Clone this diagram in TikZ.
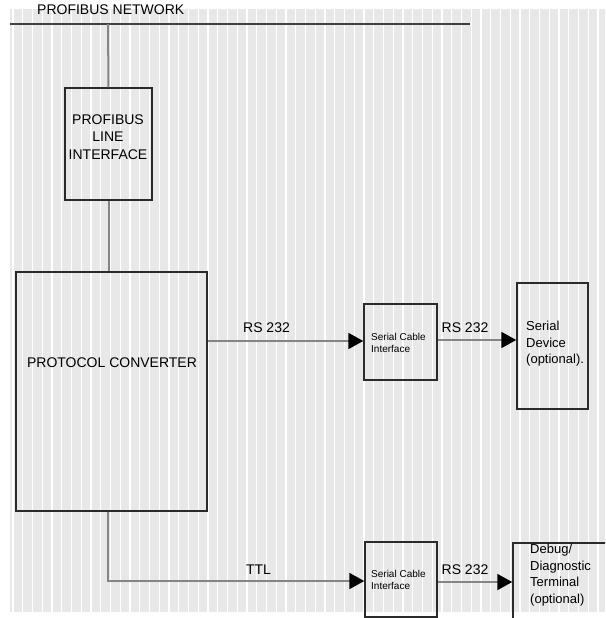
\documentclass[tikz,border=0pt]{standalone}
\usepackage{fontspec}
\setmainfont{Liberation Sans}
\usetikzlibrary{arrows.meta}
\definecolor{bggray}{HTML}{E8E8E8}
\definecolor{linegray}{HTML}{858585}
\definecolor{boxline}{HTML}{2A2A2A}
\tikzset{
  blk/.style={draw=boxline, line width=1.5pt, fill=none, inner sep=0pt},
  conn/.style={draw=linegray, line width=2pt},
  arr/.style={conn, -{Triangle[length=15pt,width=16pt,fill=black,color=black]}},
  bigtxt/.style={font=\fontsize{14}{17.5}\selectfont, inner sep=0pt, align=center},
  midtxt/.style={font=\fontsize{13}{16.5}\selectfont, inner sep=0pt, align=left},
  smalltxt/.style={font=\fontsize{10}{12.5}\selectfont, inner sep=0pt, align=left},
}
\begin{document}
\begin{tikzpicture}[x=1pt,y=-1pt]
\useasboundingbox (0,0) rectangle (605,618);
\clip (0,0) rectangle (605,618);
% striped background
\fill[bggray] (10,9) rectangle (605,612);
\foreach \i in {0,...,61} {
  \draw[white, line width=1.4pt] ({13+\i*9.75},9) -- ({13+\i*9.75},612);
}
% network line
\node[bigtxt, anchor=base west] (nettxt) at (37,14.5) {PROFIBUS NETWORK};
\coordinate (netL) at (10,24);
\coordinate (netR) at (470,24);
\draw[draw=black!75, line width=2pt] (netL) -- (netR);
\coordinate (tap) at (108,24);
% boxes
\node[blk, minimum width=87pt, minimum height=112pt] (pli) at (108.5,144) {};
\node[bigtxt] (plitxt) at (108,137) {PROFIBUS\\LINE\\INTERFACE};
\node[blk, minimum width=191pt, minimum height=239pt] (pc) at (111.5,391.5) {};
\node[bigtxt] (pctxt) at (112,363) {PROTOCOL CONVERTER};
\node[blk, minimum width=73pt, minimum height=76pt] (sci1) at (400.5,342) {};
\node[smalltxt, anchor=west] (sci1txt) at (371,343) {Serial Cable\\Interface};
\node[blk, minimum width=71pt, minimum height=126pt] (sd) at (552.5,346) {};
\node[midtxt, anchor=west] (sdtxt) at (526,344) {Serial\\Device\\(optional).};
\node[blk, minimum width=72pt, minimum height=75pt] (sci2) at (401,579.5) {};
\node[smalltxt, anchor=west] (sci2txt) at (371,580) {Serial Cable\\Interface};
\node[blk, minimum width=100pt, minimum height=100pt] (dbg) at (563,593) {};
\node[midtxt, anchor=west] (dbgtxt) at (530,575) {Debug/\\Diagnostic\\Terminal\\(optional)};
% connectors
\draw[conn] (tap) -- (pli.north);
\draw[conn] (pli.south) -- (pc.north -| pli.south);
\draw[arr] (pc.east |- 0,341) -- (sci1.west |- 0,341);
\node[bigtxt, anchor=base] (rs1) at (266.5,332) {RS 232};
\draw[arr] (sci1.east |- 0,340) -- (sd.west |- 0,340);
\node[bigtxt, anchor=base] (rs2) at (465,332) {RS 232};
\coordinate (bend) at (108,581);
\draw[arr] (pc.south -| bend) -- (bend) -- (sci2.west |- bend);
\node[bigtxt, anchor=base] (ttl) at (258.5,574) {TTL};
\draw[arr] (sci2.east |- 0,582) -- (dbg.west |- 0,582);
\node[bigtxt, anchor=base] (rs3) at (465,574) {RS 232};
\end{tikzpicture}
\end{document}
